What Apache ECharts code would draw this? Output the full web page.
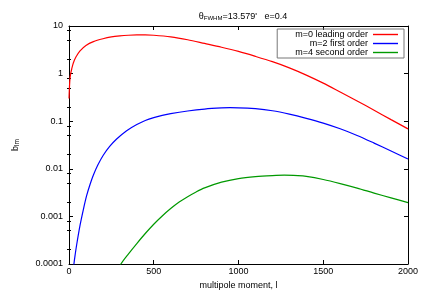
<!DOCTYPE html>
<html>
<head>
<meta charset="utf-8">
<script src="https://cdn.jsdelivr.net/npm/echarts@6/dist/echarts.min.js"></script>
<style>html,body{margin:0;padding:0;background:#fff}#c{width:421px;height:295px}</style>
</head>
<body>
<div id="c"></div>
<script>
// ---- data ----
const seriesNames = ['m=0 leading order', 'm=2 first order', 'm=4 second order'];
const xTicks = [0, 500, 1000, 1500, 2000];
const yTicks = [0.0001, 0.001, 0.01, 0.1, 1, 10];
const minorTickFactors = [2, 5, 8];

const lM0 = [0, 3, 6, 10, 16, 25, 40, 65, 100, 144, 200, 250, 300, 350, 400, 450, 500, 600, 700, 800, 900, 1000, 1100, 1200, 1300, 1400, 1500, 1600, 1700, 1800, 1900, 2000];
const bM0 = [0.3, 0.55, 0.8, 1.0, 1.25, 1.65, 2.2, 3.0, 3.9, 4.7, 5.4, 5.9, 6.2, 6.4, 6.5, 6.5, 6.4, 5.92, 5.15, 4.3, 3.58, 2.92, 2.3, 1.78, 1.32, 0.93, 0.63, 0.41, 0.266, 0.17, 0.108, 0.069];

const lM2 = [25, 29, 35, 45, 65, 85, 104, 125, 144, 170, 203, 240, 281, 340, 400, 450, 500, 550, 600, 700, 800, 900, 950, 1000, 1100, 1200, 1300, 1400, 1500, 1600, 1700, 1800, 1900, 2000];
const bM2 = [0.000076, 0.0001, 0.000145, 0.000251, 0.000646, 0.00141, 0.00272, 0.00479, 0.00741, 0.012, 0.0195, 0.0295, 0.0422, 0.0631, 0.0851, 0.1035, 0.119, 0.1324, 0.1445, 0.164, 0.18, 0.19, 0.192, 0.1914, 0.1832, 0.166, 0.141, 0.115, 0.0912, 0.0692, 0.0501, 0.0347, 0.0237, 0.016];

const lM4 = [295, 306, 350, 400, 450, 500, 550, 600, 650, 700, 750, 800, 900, 1000, 1100, 1200, 1270, 1350, 1400, 1500, 1600, 1700, 1800, 1900, 2000];
const bM4 = [0.000079, 0.0001, 0.000162, 0.000269, 0.000437, 0.000684, 0.00102, 0.00146, 0.002, 0.0026, 0.00327, 0.00398, 0.00525, 0.00624, 0.00684, 0.00719, 0.00733, 0.00716, 0.00692, 0.00596, 0.0049, 0.00394, 0.00309, 0.00245, 0.00195];

// ---- build ----
const zip = (a, b) => a.map((v, i) => [v, b[i]]);
const minorVals = [];
for (let i = 0; i < yTicks.length - 1; i++) minorTickFactors.forEach(f => minorVals.push(Math.log10(yTicks[i] * f)));
const FONT = 'Liberation Sans';
const fmtY = v => String(Number(Number(v).toPrecision(6)));

const chart = echarts.init(document.getElementById('c'), null, {renderer: 'canvas'});
const axisCommonX = {
  type: 'value', min: xTicks[0], max: xTicks[xTicks.length - 1], interval: 500,
  axisLine: {show: true, onZero: false, lineStyle: {color: '#000', width: 1}},
  axisTick: {show: true, inside: true, length: 4, lineStyle: {color: '#000'}},
  splitLine: {show: false}
};
const axisCommonY = {
  type: 'log', logBase: 10, min: yTicks[0], max: yTicks[yTicks.length - 1],
  axisLine: {show: true, onZero: false, lineStyle: {color: '#000', width: 1}},
  axisTick: {show: true, inside: true, length: 4, lineStyle: {color: '#000'}},
  splitLine: {show: false}
};
const minorY = pos => ({
  type: 'value', position: pos,
  min: Math.log10(yTicks[0]), max: Math.log10(yTicks[yTicks.length - 1]),
  axisLine: {show: false}, axisLabel: {show: false}, splitLine: {show: false},
  axisTick: {show: true, inside: true, length: 2, customValues: minorVals, lineStyle: {color: '#000'}}
});
const richText = {fontFamily: FONT, color: '#000', fontWeight: 'normal', lineHeight: 12, verticalAlign: 'top'};

chart.setOption({
  animation: false,
  backgroundColor: '#fff',
  textStyle: {fontFamily: FONT},
  title: {
    text: '{t|θ}{s|FWHM}{t|=13.579\'   e=0.4}',
    left: 238, top: 7, textAlign: 'center',
    textStyle: {
      fontWeight: 'normal',
      rich: {
        t: Object.assign({fontSize: 9}, richText),
        s: Object.assign({fontSize: 6, padding: [3, 0, 0, 0]}, richText)
      }
    }
  },
  grid: {left: 69, right: 13, top: 26, bottom: 28},
  legend: {
    data: seriesNames,
    orient: 'vertical', align: 'right',
    right: 17, top: 29,
    borderColor: '#777', borderWidth: 1,
    padding: [1, 6, 1, 18],
    icon: 'rect',
    itemWidth: 25, itemHeight: 1.4, itemGap: 0,
    textStyle: {fontSize: 9, fontFamily: FONT, color: '#000', lineHeight: 9}
  },
  xAxis: [
    Object.assign({}, axisCommonX, {
      position: 'bottom',
      axisLabel: {color: '#000', fontSize: 9, fontFamily: FONT, margin: 3, formatter: v => String(v)},
      name: 'multipole moment, l', nameLocation: 'middle', nameGap: 17,
      nameTextStyle: {fontSize: 9, fontFamily: FONT, color: '#000'}
    }),
    Object.assign({}, axisCommonX, {position: 'top', axisLabel: {show: false}})
  ],
  yAxis: [
    Object.assign({}, axisCommonY, {
      position: 'left',
      axisLabel: {color: '#000', fontSize: 9, fontFamily: FONT, margin: 6, formatter: fmtY},
      name: '{b|b}{s|lm}', nameLocation: 'middle', nameGap: 46, nameRotate: 90,
      nameTextStyle: {
        rich: {
          b: Object.assign({fontSize: 9}, richText),
          s: Object.assign({fontSize: 6.5, padding: [3, 0, 0, 0]}, richText)
        }
      }
    }),
    Object.assign({}, axisCommonY, {position: 'right', axisLabel: {show: false}}),
    minorY('left'),
    minorY('right')
  ],
  series: [
    {name: seriesNames[0], type: 'line', data: zip(lM0, bM0), color: '#ff0000'},
    {name: seriesNames[1], type: 'line', data: zip(lM2, bM2), color: '#0000ff'},
    {name: seriesNames[2], type: 'line', data: zip(lM4, bM4), color: '#009900'}
  ].map(s => Object.assign(s, {
    xAxisIndex: 0, yAxisIndex: 0, showSymbol: false, symbol: 'none',
    smooth: 0.3, clip: true,
    lineStyle: {width: 1.2, color: s.color}, itemStyle: {color: s.color}
  }))
});
</script>
</body>
</html>
